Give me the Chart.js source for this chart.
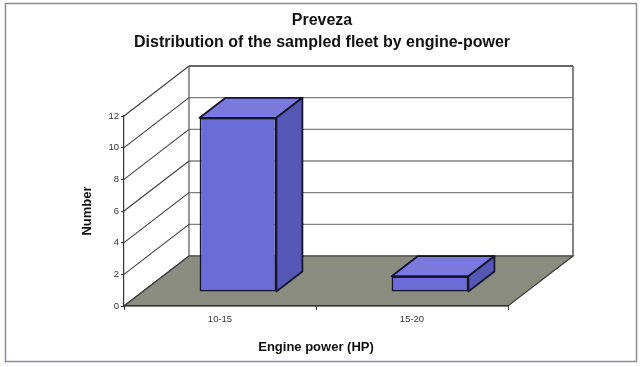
<!DOCTYPE html>
<html lang="en">
<head>
<meta charset="utf-8">
<title>Preveza - fleet by engine power</title>
<style>
  html, body { margin: 0; padding: 0; background: #fff; }
  canvas { display: block; }
</style>
</head>
<body>
<canvas id="myChart" width="640" height="367"></canvas>

<script src="https://cdn.jsdelivr.net/npm/chart.js"></script>
<script>
  // --- data ---
  const CATEGORIES = ['10-15', '15-20'];
  const BOATS = [11, 1];
  const Y_TICKS = [0, 2, 4, 6, 8, 10, 12];
  const TITLE_LINES = ['Preveza', 'Distribution of the sampled fleet by engine-power'];

  // --- 3d look ---
  const DEPTH = {x: 65, y: -50};      // how far the back wall sits behind the front plane
  const BAR_SHIFT = {x: 18, y: -14};  // bars stand in the middle of the floor
  const BAR_DEPTH = {x: 26, y: -20};
  const FONT = '"Liberation Sans", Arial, sans-serif';

  function poly(c, pts, fill, stroke, lw) {
    c.beginPath();
    c.moveTo(pts[0][0], pts[0][1]);
    for (let i = 1; i < pts.length; ++i) c.lineTo(pts[i][0], pts[i][1]);
    c.closePath();
    if (fill) { c.fillStyle = fill; c.fill(); }
    if (stroke) { c.strokeStyle = stroke; c.lineWidth = lw || 1; c.stroke(); }
  }

  function seg(c, x1, y1, x2, y2, col, lw) {
    c.beginPath();
    c.moveTo(x1, y1);
    c.lineTo(x2, y2);
    c.strokeStyle = col;
    c.lineWidth = lw || 1;
    c.stroke();
  }

  const box3d = {
    id: 'box3d',
    beforeDraw(chart) {
      const c = chart.ctx;
      const a = chart.chartArea;
      const ys = chart.scales.y;
      c.save();
      c.fillStyle = '#fff';
      c.fillRect(0, 0, chart.width, chart.height);
      // outer frame
      c.strokeStyle = '#8d8d98';
      c.lineWidth = 1.5;
      c.strokeRect(5.5, 3.5, 631, 358);

      // titles
      c.fillStyle = '#111';
      c.font = 'bold 16px ' + FONT;
      c.textAlign = 'center';
      c.textBaseline = 'middle';
      c.fillText(TITLE_LINES[0], 322, 21);
      c.fillText(TITLE_LINES[1], 322, 43);

      const bl = a.left + DEPTH.x;
      const br = a.right + DEPTH.x;
      const top = a.top + DEPTH.y;
      const bot = a.bottom + DEPTH.y;

      // walls
      poly(c, [[a.left, a.bottom], [a.left, a.top], [bl, top], [bl, bot]], '#fff', null);
      poly(c, [[bl, top], [br, top], [br, bot], [bl, bot]], '#fff', null);

      // gridlines: diagonal on the side wall, flat across the back wall
      Y_TICKS.forEach(v => {
        const y = ys.getPixelForValue(v);
        seg(c, a.left, y, bl, y + DEPTH.y, '#3e3e3e', 1.1);
        seg(c, bl, y + DEPTH.y, br, y + DEPTH.y, '#808080', 1.3);
      });
      seg(c, bl, top, bl, bot, '#555', 1.2);
      seg(c, bl, top, br, top, '#555', 1.5);
      seg(c, br, top, br, bot, '#666', 1.6);

      // floor
      poly(c, [[a.left, a.bottom], [a.right, a.bottom], [br, bot], [bl, bot]], '#8a8c80', '#3c3c3c', 1.2);
      c.restore();
    },
    beforeDatasetsDraw(chart) {
      chart.ctx.save();
      chart.ctx.translate(BAR_SHIFT.x, BAR_SHIFT.y);
    },
    afterDatasetsDraw(chart) {
      const c = chart.ctx;
      c.restore();
      c.save();
      c.lineJoin = 'round';
      chart.getDatasetMeta(0).data.forEach(bar => {
        const p = bar.getProps(['x', 'y', 'base', 'width'], true);
        const L = p.x - p.width / 2 + BAR_SHIFT.x;
        const R = p.x + p.width / 2 + BAR_SHIFT.x;
        const T = p.y + BAR_SHIFT.y;
        const B = p.base + BAR_SHIFT.y;
        const dx = BAR_DEPTH.x, dy = BAR_DEPTH.y;
        // top face
        poly(c, [[L, T], [R, T], [R + dx, T + dy], [L + dx, T + dy]], '#7a79dc', '#15152e', 1.8);
        // right side
        poly(c, [[R, T], [R + dx, T + dy], [R + dx, B + dy], [R, B]], '#5558b4', '#15152e', 1.8);
      });
      c.restore();
    }
  };

  const ctx = document.getElementById('myChart');

  const chart = new Chart(ctx, {
    type: 'bar',
    data: {
      labels: CATEGORIES,
      datasets: [{
        label: 'Number',
        data: BOATS,
        backgroundColor: '#6a6dd6',
        borderColor: '#15152e',
        borderWidth: 1.8,
        borderSkipped: false,
        barPercentage: 0.4,
        categoryPercentage: 1.0,
        clip: false
      }]
    },
    options: {
      responsive: false,
      devicePixelRatio: 1,
      animation: false,
      layout: {padding: {left: 68, right: 132, top: 116, bottom: 8}},
      plugins: {
        legend: {display: false},
        title: {display: false},
        tooltip: {enabled: false}
      },
      scales: {
        x: {
          grid: {drawOnChartArea: false, drawTicks: true, tickLength: 4, color: '#333', offset: true},
          border: {display: true, color: '#333', width: 1.2},
          ticks: {font: {family: FONT, size: 9.5}, color: '#333', padding: 4, maxRotation: 0},
          title: {display: true, text: 'Engine power (HP)', font: {family: FONT, size: 13, weight: 'bold'},
                  color: '#111', padding: {top: 0, bottom: 4}},
          afterFit: (axis) => { axis.height = 53; }
        },
        y: {
          min: 0, max: 12,
          afterBuildTicks: (axis) => { axis.ticks = Y_TICKS.map(v => ({value: v})); },
          grid: {drawOnChartArea: false, drawTicks: true, tickLength: 3, color: '#333'},
          border: {display: true, color: '#333', width: 1.2},
          ticks: {font: {family: FONT, size: 9.5}, color: '#333', padding: 2},
          title: {display: true, text: 'Number', font: {family: FONT, size: 13, weight: 'bold'},
                  color: '#111', padding: {top: 12, bottom: 0}},
          afterFit: (axis) => { axis.width = 56; }
        }
      }
    },
    plugins: [box3d]
  });
</script>
</body>
</html>
